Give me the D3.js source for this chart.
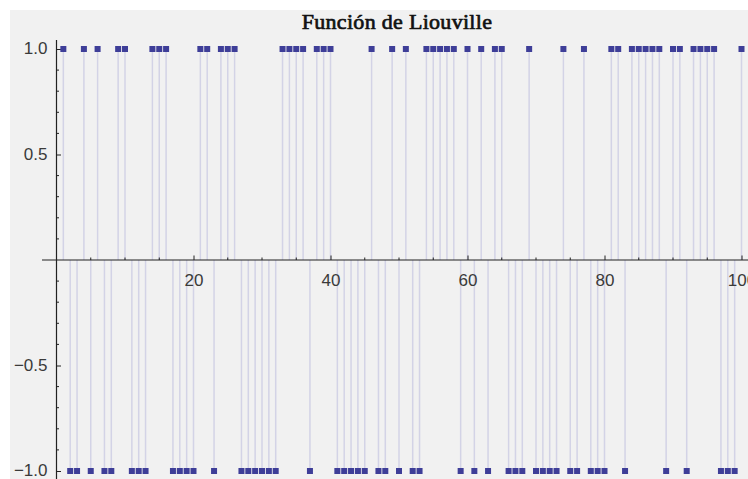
<!DOCTYPE html>
<html>
<head>
<meta charset="utf-8">
<script src="https://cdn.jsdelivr.net/npm/d3@7"></script>
<style>
  body { margin: 0; background: #fff; }
  .tick text { font-family: "Liberation Sans", Arial, sans-serif; font-size: 17px; fill: #3a3a3a; }
</style>
</head>
<body>
<div id="chart"></div>
<script>
var svgWidth = 748;
var svgHeight = 479;

// n = 1..100 and the value read at each n
var nValues = d3.range(1, 101);
var lambdaValues = [
   1,-1,-1, 1,-1, 1,-1,-1, 1, 1,
  -1,-1,-1, 1, 1, 1,-1,-1,-1,-1,
   1, 1,-1, 1, 1, 1,-1,-1,-1,-1,
  -1,-1, 1, 1, 1, 1,-1, 1, 1, 1,
  -1,-1,-1,-1,-1, 1,-1,-1, 1,-1,
   1,-1,-1, 1, 1, 1, 1, 1,-1, 1,
  -1, 1,-1, 1, 1,-1,-1,-1, 1,-1,
  -1,-1,-1, 1,-1,-1, 1,-1,-1,-1,
   1, 1,-1, 1, 1, 1, 1, 1,-1, 1,
   1,-1, 1, 1, 1, 1,-1,-1,-1, 1
];
var xTickValues = [20, 40, 60, 80, 100];
var yTickValues = [-1.0, -0.5, 0.5, 1.0];

var data = nValues.map(function(n, i) { return { n: n, v: lambdaValues[i] }; });

var svg = d3.select("#chart")
  .append("svg")
  .attr("width", svgWidth)
  .attr("height", svgHeight);

// plot background
svg.append("rect")
  .attr("x", 10)
  .attr("y", 10)
  .attr("width", svgWidth - 10)
  .attr("height", svgHeight - 10)
  .attr("fill", "#f1f1f1");

var xScale = d3.scaleLinear().domain([0, 100]).range([56.5, 741.5]);
var yScale = d3.scaleLinear().domain([-1, 1]).range([471, 49]);

// stems
svg.append("g")
  .selectAll("line")
  .data(data)
  .enter()
  .append("line")
  .attr("x1", d => xScale(d.n))
  .attr("x2", d => xScale(d.n))
  .attr("y1", yScale(0))
  .attr("y2", d => yScale(d.v))
  .attr("stroke", "#d3d3e6")
  .attr("stroke-width", 1.5);

// x axis
var xAxisG = svg.append("g")
  .attr("transform", `translate(0, ${yScale(0)})`);

xAxisG.append("line")
  .attr("x1", 42).attr("x2", svgWidth)
  .attr("stroke", "#222").attr("stroke-width", 1.2);

xAxisG.selectAll(".minor")
  .data(d3.range(5, 101, 5).filter(v => v % 20 !== 0))
  .enter().append("line")
  .attr("x1", d => xScale(d)).attr("x2", d => xScale(d))
  .attr("y1", 0).attr("y2", -2.5)
  .attr("stroke", "#222");

var bottomAxis = d3.axisBottom(xScale)
  .tickValues(xTickValues)
  .tickSizeInner(-4.5)
  .tickSizeOuter(0)
  .tickPadding(10)
  .tickFormat(d3.format("d"));

xAxisG.append("g").call(bottomAxis)
  .call(g => g.select(".domain").remove())
  .call(g => g.selectAll(".tick line").attr("stroke", "#222"))
  .call(g => g.selectAll(".tick text").attr("dy", "0.95em"));

// y axis
var yAxisG = svg.append("g")
  .attr("transform", `translate(${xScale(0)}, 0)`);

yAxisG.append("line")
  .attr("y1", 40).attr("y2", svgHeight)
  .attr("stroke", "#222").attr("stroke-width", 1.2);

yAxisG.selectAll(".minor")
  .data(d3.range(-9, 10).map(v => v / 10).filter(v => Math.abs(v) > 0.01 && Math.abs(Math.abs(v) - 0.5) > 0.01))
  .enter().append("line")
  .attr("y1", d => yScale(d)).attr("y2", d => yScale(d))
  .attr("x1", 0).attr("x2", 2.5)
  .attr("stroke", "#222");

var leftAxis = d3.axisLeft(yScale)
  .tickValues(yTickValues)
  .tickSizeInner(-4.5)
  .tickSizeOuter(0)
  .tickPadding(9)
  .tickFormat(d => (d < 0 ? "\u2212" : "") + d3.format(".1f")(Math.abs(d)));

yAxisG.append("g").call(leftAxis)
  .call(g => g.select(".domain").remove())
  .call(g => g.selectAll(".tick line").attr("stroke", "#222"))
  .call(g => g.selectAll(".tick text").attr("dy", "0.28em"));

// points
svg.append("g")
  .selectAll("rect")
  .data(data)
  .enter()
  .append("rect")
  .attr("x", d => xScale(d.n) - 3)
  .attr("y", d => yScale(d.v) - 3)
  .attr("width", 6)
  .attr("height", 6)
  .attr("fill", "#3e3e98");

// title
svg.append("text")
  .attr("x", 397)
  .attr("y", 29)
  .attr("text-anchor", "middle")
  .style("font-family", "'Liberation Serif', 'Times New Roman', serif")
  .style("font-size", "22px")
  .style("letter-spacing", "0.3px")
  .style("fill", "#111")
  .style("stroke", "#111")
  .style("stroke-width", "0.7px")
  .text("Función de Liouville");
</script>
</body>
</html>
